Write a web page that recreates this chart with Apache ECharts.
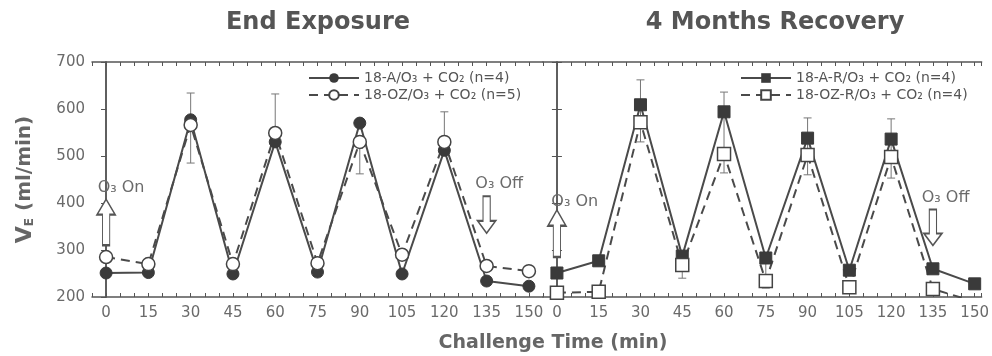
<!DOCTYPE html>
<html>
<head>
<meta charset="utf-8">
<script src="https://cdn.jsdelivr.net/npm/echarts@6/dist/echarts.min.js"></script>
<style>
  html, body { margin: 0; padding: 0; background: #fff; }
  #chart { width: 992px; height: 356px; }
</style>
</head>
<body>
<div id="chart"></div>
<script>
// challenge time (min)
const times = [0, 15, 30, 45, 60, 75, 90, 105, 120, 135, 150];

// End Exposure panel
const endA = [251, 252, 577, 249, 530, 253, 570, 249, 512, 234, 223];
const endOZ = [285, 270, 566, 270, 549, 272, 530, 290, 530, 266, 255];
// 4 Months Recovery panel
const recA = [251, 277, 609, 287, 594, 283, 538, 257, 536, 260, 228];
const recOZ = [209, 211, 572, 268, 504, 234, 502, 221, 498, 217, 190];

// error bars: [time, low, high]
const errEnd = [[30, 485, 634], [60, 549, 632], [90, 462, 530], [120, 530, 594]];
const errRec = [[0, 251, 263], [30, 530, 662], [60, 464, 636], [90, 460, 581],
                [120, 453, 579], [45, 240, 287], [75, 219, 283]];

const names = ['18-A/O₃ + CO₂ (n=4)', '18-OZ/O₃ + CO₂ (n=5)',
               '18-A-R/O₃ + CO₂ (n=4)', '18-OZ-R/O₃ + CO₂ (n=4)'];

const FONT = 'DejaVu Sans';
const AX = '#555';
const TXT = '#6a6a6a';

const upArrow = 'path://M3,30 L7,30 L7,10 L10,10 L5,0 L0,10 L3,10 Z';
const downArrow = 'path://M3,0 L7,0 L7,20 L10,20 L5,30 L0,20 L3,20 Z';

function pairs(vals) {
    return times.map((t, i) => [t, vals[i]]);
}

function xAxisDef(grid, pos, max, labels) {
    return {
        type: 'value', gridIndex: grid, position: pos, min: -5, max: max, interval: 5,
        axisLine: { lineStyle: { color: AX, width: 1.5 } },
        axisTick: { inside: true, length: 4, lineStyle: { color: AX } },
        splitLine: { show: false },
        axisLabel: {
            show: labels, interval: 0, margin: 9, color: TXT, fontFamily: FONT, fontSize: 15,
            formatter: v => (v >= 0 && v % 15 === 0) ? String(v) : ''
        }
    };
}

function yAxisDef(grid, pos, labels, inside) {
    return {
        type: 'value', gridIndex: grid, position: pos, min: 200, max: 700, interval: 100,
        axisLine: { show: true, lineStyle: { color: AX, width: 1.5 } },
        axisTick: { show: true, inside: inside, length: 5, lineStyle: { color: AX } },
        splitLine: { show: false },
        axisLabel: { show: labels, margin: 7, color: TXT, fontFamily: FONT, fontSize: 15 }
    };
}

function errSeries(data, idx) {
    return {
        type: 'custom', xAxisIndex: idx, yAxisIndex: idx, z: 1,
        data: data, encode: { x: 0, y: [1, 2] },
        renderItem: function (params, api) {
            const lo = api.coord([api.value(0), api.value(1)]);
            const hi = api.coord([api.value(0), api.value(2)]);
            const st = { stroke: '#777', lineWidth: 1 };
            return {
                type: 'group', children: [
                    { type: 'line', shape: { x1: lo[0], y1: lo[1], x2: hi[0], y2: hi[1] }, style: st },
                    { type: 'line', shape: { x1: hi[0] - 4, y1: hi[1], x2: hi[0] + 4, y2: hi[1] }, style: st },
                    { type: 'line', shape: { x1: lo[0] - 4, y1: lo[1], x2: lo[0] + 4, y2: lo[1] }, style: st }
                ]
            };
        }
    };
}

function lineSeries(name, vals, idx, filled, symbol, marks) {
    return {
        name: name, type: 'line', xAxisIndex: idx, yAxisIndex: idx, z: 3,
        data: pairs(vals), symbol: symbol, symbolSize: filled ? 12 : 13,
        lineStyle: { color: '#4a4a4a', width: 2, type: filled ? 'solid' : [9, 6] },
        itemStyle: filled ? { color: '#3a3a3a', borderColor: '#3a3a3a' }
                          : { color: '#fff', borderColor: '#444', borderWidth: 1.5 },
        markPoint: marks ? { animation: false, data: marks } : undefined,
        animation: false
    };
}

function arrow(x, y, path, h) {
    return {
        coord: [x, y], symbol: path, symbolSize: [18, h],
        itemStyle: { color: '#fff', borderColor: '#555', borderWidth: 1.5 },
        label: { show: false }
    };
}

function note(x, y, text) {
    return {
        coord: [x, y], symbol: 'circle', symbolSize: 0.01,
        label: {
            show: true, position: 'right', distance: 0, formatter: text,
            color: TXT, fontFamily: FONT, fontSize: 16
        }
    };
}

const marksEnd = [
    arrow(0, 359, upArrow, 46), note(-3, 433, 'O₃ On'),
    arrow(135, 375, downArrow, 37), note(131, 440, 'O₃ Off')
];
const marksRec = [
    arrow(0, 335, upArrow, 47), note(-2, 403, 'O₃ On'),
    arrow(135, 348, downArrow, 36), note(131, 412, 'O₃ Off')
];

const chart = echarts.init(document.getElementById('chart'));

chart.setOption({
    backgroundColor: '#fff',
    animation: false,
    title: [
        { text: 'End Exposure', left: 313, top: 6, textAlign: 'center',
          textStyle: { fontFamily: FONT, fontSize: 24, fontWeight: 'bold', color: '#555' } },
        { text: '4 Months Recovery', left: 770, top: 6, textAlign: 'center',
          textStyle: { fontFamily: FONT, fontSize: 24, fontWeight: 'bold', color: '#555' } },
        { text: 'Challenge Time (min)', left: 548, top: 329, textAlign: 'center',
          textStyle: { fontFamily: FONT, fontSize: 19, fontWeight: 'bold', color: '#666' } }
    ],
    legend: [
        { data: [names[0], names[1]], left: 303, top: 66, orient: 'vertical', itemGap: 3,
          itemWidth: 50, itemHeight: 12,
          textStyle: { fontFamily: FONT, fontSize: 14, color: '#555' } },
        { data: [names[2], names[3]], left: 735, top: 66, orient: 'vertical', itemGap: 3,
          itemWidth: 50, itemHeight: 12,
          textStyle: { fontFamily: FONT, fontSize: 14, color: '#555' } }
    ],
    grid: [
        { left: 92, top: 62, width: 451, height: 235 },
        { left: 543, top: 62, width: 442, height: 235 }
    ],
    xAxis: [
        xAxisDef(0, 'bottom', 155, true),
        xAxisDef(1, 'bottom', 152.5, true),
        xAxisDef(0, 'top', 155, false),
        xAxisDef(1, 'top', 152.5, false)
    ],
    yAxis: [
        Object.assign(yAxisDef(0, 'left', true, false), {
            name: '{v|V}{e|E}{t| (ml/min)}', nameLocation: 'middle', nameGap: 56,
            nameTextStyle: {
                rich: {
                    v: { fontFamily: FONT, fontSize: 22, fontWeight: 'bold', color: '#666' },
                    e: { fontFamily: FONT, fontSize: 12, fontWeight: 'bold', color: '#666', verticalAlign: 'bottom' },
                    t: { fontFamily: FONT, fontSize: 20, fontWeight: 'bold', color: '#666' }
                }
            }
        }),
        yAxisDef(1, 'left', false, true),
        yAxisDef(0, 'right', false, true),
        yAxisDef(1, 'right', false, true)
    ],
    series: [
        errSeries(errEnd, 0),
        errSeries(errRec, 1),
        lineSeries(names[0], endA, 0, true, 'circle', marksEnd),
        lineSeries(names[1], endOZ, 0, false, 'circle'),
        lineSeries(names[2], recA, 1, true, 'rect', marksRec),
        lineSeries(names[3], recOZ, 1, false, 'rect')
    ]
});
</script>
</body>
</html>
